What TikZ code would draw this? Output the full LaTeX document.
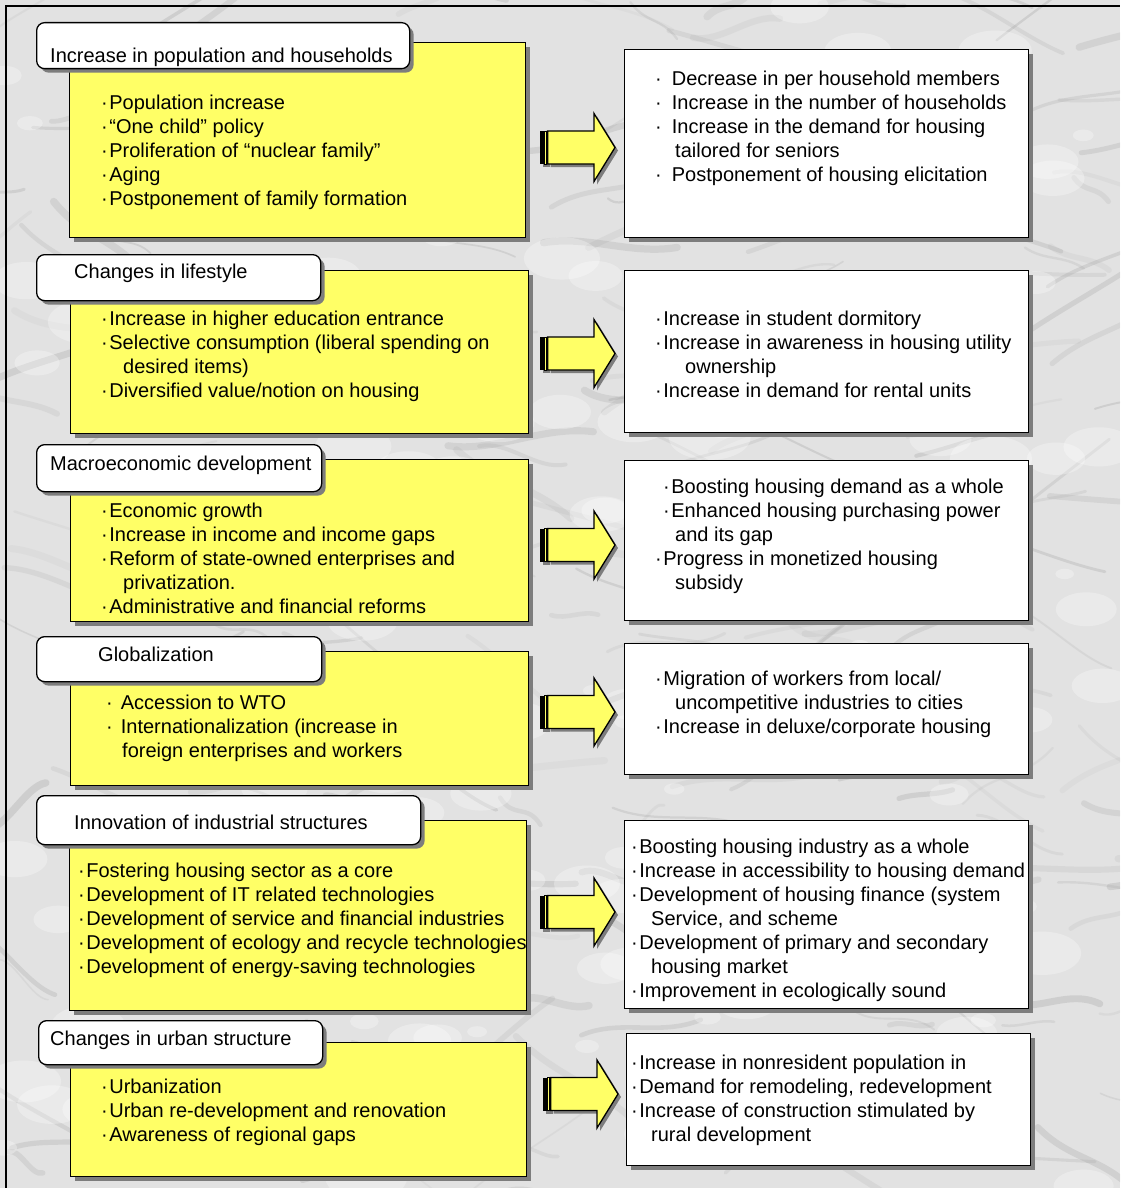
\documentclass[tikz,border=0pt]{standalone}
\usepackage{fontspec}
\setmainfont{Liberation Sans}
\usetikzlibrary{shadows}
\definecolor{marble}{RGB}{226,226,226}
\definecolor{vein}{RGB}{160,160,160}
\definecolor{boxyellow}{RGB}{255,255,102}
\definecolor{shadowgray}{RGB}{125,125,125}
\newcommand\bl{·\hspace{1.5pt}}
\newcommand\blm{·\hspace{8pt}}
\newcommand\blw{·\hspace{10pt}}
\newcommand\flowarrow[2]{%
  \begin{scope}[shift={(#1,#2)}]
    \fill[shadowgray] (3,-13.5) rectangle (10,19.5);
    \fill[shadowgray] (10.5,-13.5) -- (57,-13.5) -- (57,-31) -- (78,3) -- (57,37) -- (57,19.5) -- (10.5,19.5) -- cycle;
    \fill[black] (0,-16.5) rectangle (4,16.5);
    \filldraw[fill=boxyellow, draw=black, line width=0.8pt] (4.6,-16.5) rectangle (6.8,16.5);
    \filldraw[fill=boxyellow, draw=black, line width=1.3pt, line join=miter] (7.6,-16.5) -- (54,-16.5) -- (54,-34) -- (75,0) -- (54,34) -- (54,16.5) -- (7.6,16.5) -- cycle;
  \end{scope}}
\tikzset{
  boxshadow/.style={drop shadow={shadow xshift=4pt, shadow yshift=-4pt, fill=shadowgray, opacity=1}},
  causebox/.style={draw=black, line width=1.3pt, fill=boxyellow, anchor=north west, inner sep=0pt, boxshadow},
  effectbox/.style={draw=black, line width=1.3pt, fill=white, anchor=north west, inner sep=0pt, boxshadow},
  titlebox/.style={draw=black, line width=1.3pt, fill=white, rounded corners=8pt, anchor=north west, inner sep=0pt, boxshadow},
  txtbase/.style={anchor=north west, inner sep=0pt, align=left, font=\fontsize{20}{24}\selectfont, execute at begin node=\strut},
  txt/.style={txtbase, yshift=-4pt},
  ttl/.style={txtbase, yshift=-1.5pt}
}
\begin{document}
\begin{tikzpicture}[x=1pt, y=-1pt]
\useasboundingbox (0,0) rectangle (1120,1188);
\fill[marble] (0,0) rectangle (1120,1188);
\begin{scope}
  \clip (0,0) rectangle (1120,1188);
  \pgfmathsetseed{11}
  \foreach \i in {1,...,260}{
    \pgfmathsetmacro\xa{rnd*1180-30}
    \pgfmathsetmacro\ya{rnd*1240-26}
    \pgfmathsetmacro\len{40+rnd*120}
    \pgfmathsetmacro\ang{-40+rnd*80}
    \pgfmathsetmacro\wid{1.5+rnd*6}
    \pgfmathsetmacro\op{0.08+rnd*0.22}
    \pgfmathsetmacro\bend{rnd*30-15}
    \draw[vein, line width=\wid pt, opacity=\op, line cap=round]
      (\xa,\ya) .. controls ({\xa+\len*0.33*cos(\ang)},{\ya-\len*0.33*sin(\ang)+\bend}) and ({\xa+\len*0.66*cos(\ang)},{\ya-\len*0.66*sin(\ang)-\bend}) .. ({\xa+\len*cos(\ang)},{\ya-\len*sin(\ang)});
  }
  \foreach \i in {1,...,140}{
    \pgfmathsetmacro\xa{rnd*1120}
    \pgfmathsetmacro\ya{rnd*1188}
    \pgfmathsetmacro\rr{5+rnd*18}
    \fill[white, opacity=0.3] (\xa,\ya) ellipse ({\rr*1.8} and \rr);
  }
\end{scope}
\draw[black, line width=1.5pt] (6,1188) -- (6,6) -- (1120,6);

% ---------- Row 1
\node[causebox, minimum width=456pt, minimum height=195pt] (c1) at (69,42) {};
\node[titlebox, minimum width=373pt, minimum height=46pt] (h1) at (36,22) {};
\node[ttl] (h1t) at (50,44) {Increase in population and households};
\node[txt] (c1t) at (101,91) {\bl Population increase\\ \bl “One child” policy\\ \bl Proliferation of “nuclear family”\\ \bl Aging\\ \bl Postponement of family formation};
\node[effectbox, minimum width=404pt, minimum height=188pt] (e1) at (624,49) {};
\node[txt] (e1t) at (655,67) {\blw Decrease in per household members\\ \blw Increase in the number of households\\ \blw Increase in the demand for housing\\ \hspace*{20pt}tailored for seniors\\ \blw Postponement of housing elicitation};
\flowarrow{540}{147.5}

% ---------- Row 2
\node[causebox, minimum width=458pt, minimum height=163pt] (c2) at (70,270) {};
\node[titlebox, minimum width=284pt, minimum height=46pt] (h2) at (36,254) {};
\node[ttl] (h2t) at (74,260) {Changes in lifestyle};
\node[txt] (c2t) at (101,307) {\bl Increase in higher education entrance\\ \bl Selective consumption (liberal spending on\\ \hspace*{22pt}desired items)\\ \bl Diversified value/notion on housing};
\node[effectbox, minimum width=404pt, minimum height=162pt] (e2) at (624,270) {};
\node[txt] (e2t) at (655,307) {\bl Increase in student dormitory\\ \bl Increase in awareness in housing utility\\ \hspace*{30pt}ownership\\ \bl Increase in demand for rental units};
\flowarrow{540}{353.5}

% ---------- Row 3
\node[causebox, minimum width=458pt, minimum height=162pt] (c3) at (70,459) {};
\node[titlebox, minimum width=285pt, minimum height=47pt] (h3) at (36,444) {};
\node[ttl] (h3t) at (50,452) {Macroeconomic development};
\node[txt] (c3t) at (101,499) {\bl Economic growth\\ \bl Increase in income and income gaps\\ \bl Reform of state-owned enterprises and\\ \hspace*{22pt}privatization.\\ \bl Administrative and financial reforms};
\node[effectbox, minimum width=404pt, minimum height=160pt] (e3) at (624,460) {};
\node[txt] (e3t) at (655,475) {\hspace*{8pt}\bl Boosting housing demand as a whole\\ \hspace*{8pt}\bl Enhanced housing purchasing power\\ \hspace*{20pt}and its gap\\ \bl Progress in monetized housing\\ \hspace*{20pt}subsidy};
\flowarrow{540}{545}

% ---------- Row 4
\node[causebox, minimum width=458pt, minimum height=134pt] (c4) at (70,651) {};
\node[titlebox, minimum width=285pt, minimum height=45pt] (h4) at (36,636) {};
\node[ttl] (h4t) at (98,643) {Globalization};
\node[txt] (c4t) at (106,691) {\blm Accession to WTO\\ \blm Internationalization (increase in\\ \hspace*{16pt}foreign enterprises and workers};
\node[effectbox, minimum width=404pt, minimum height=131pt] (e4) at (624,643) {};
\node[txt] (e4t) at (655,667) {\bl Migration of workers from local/\\ \hspace*{20pt}uncompetitive industries to cities\\ \bl Increase in deluxe/corporate housing};
\flowarrow{540}{712}

% ---------- Row 5
\node[causebox, minimum width=457pt, minimum height=190pt] (c5) at (69,820) {};
\node[titlebox, minimum width=384pt, minimum height=49pt] (h5) at (36,795) {};
\node[ttl] (h5t) at (74,811) {Innovation of industrial structures};
\node[txt] (c5t) at (78,859) {\bl Fostering housing sector as a core\\ \bl Development of IT related technologies\\ \bl Development of service and financial industries\\ \bl Development of ecology and recycle technologies\\ \bl Development of energy-saving technologies};
\node[effectbox, minimum width=404pt, minimum height=188pt] (e5) at (624,820) {};
\node[txt] (e5t) at (631,835) {\bl Boosting housing industry as a whole\\ \bl Increase in accessibility to housing demand\\ \bl Development of housing finance (system\\ \hspace*{20pt}Service, and scheme\\ \bl Development of primary and secondary\\ \hspace*{20pt}housing market\\ \bl Improvement in ecologically sound};
\flowarrow{540}{912}

% ---------- Row 6
\node[causebox, minimum width=456pt, minimum height=134pt] (c6) at (70,1042) {};
\node[titlebox, minimum width=284pt, minimum height=44pt] (h6) at (38,1020) {};
\node[ttl] (h6t) at (50,1027) {Changes in urban structure};
\node[txt] (c6t) at (101,1075) {\bl Urbanization\\ \bl Urban re-development and renovation\\ \bl Awareness of regional gaps};
\node[effectbox, minimum width=404pt, minimum height=132pt] (e6) at (626,1033) {};
\node[txt] (e6t) at (631,1051) {\bl Increase in nonresident population in\\ \bl Demand for remodeling, redevelopment\\ \bl Increase of construction stimulated by\\ \hspace*{20pt}rural development};
\flowarrow{543}{1094}
\end{tikzpicture}
\end{document}
